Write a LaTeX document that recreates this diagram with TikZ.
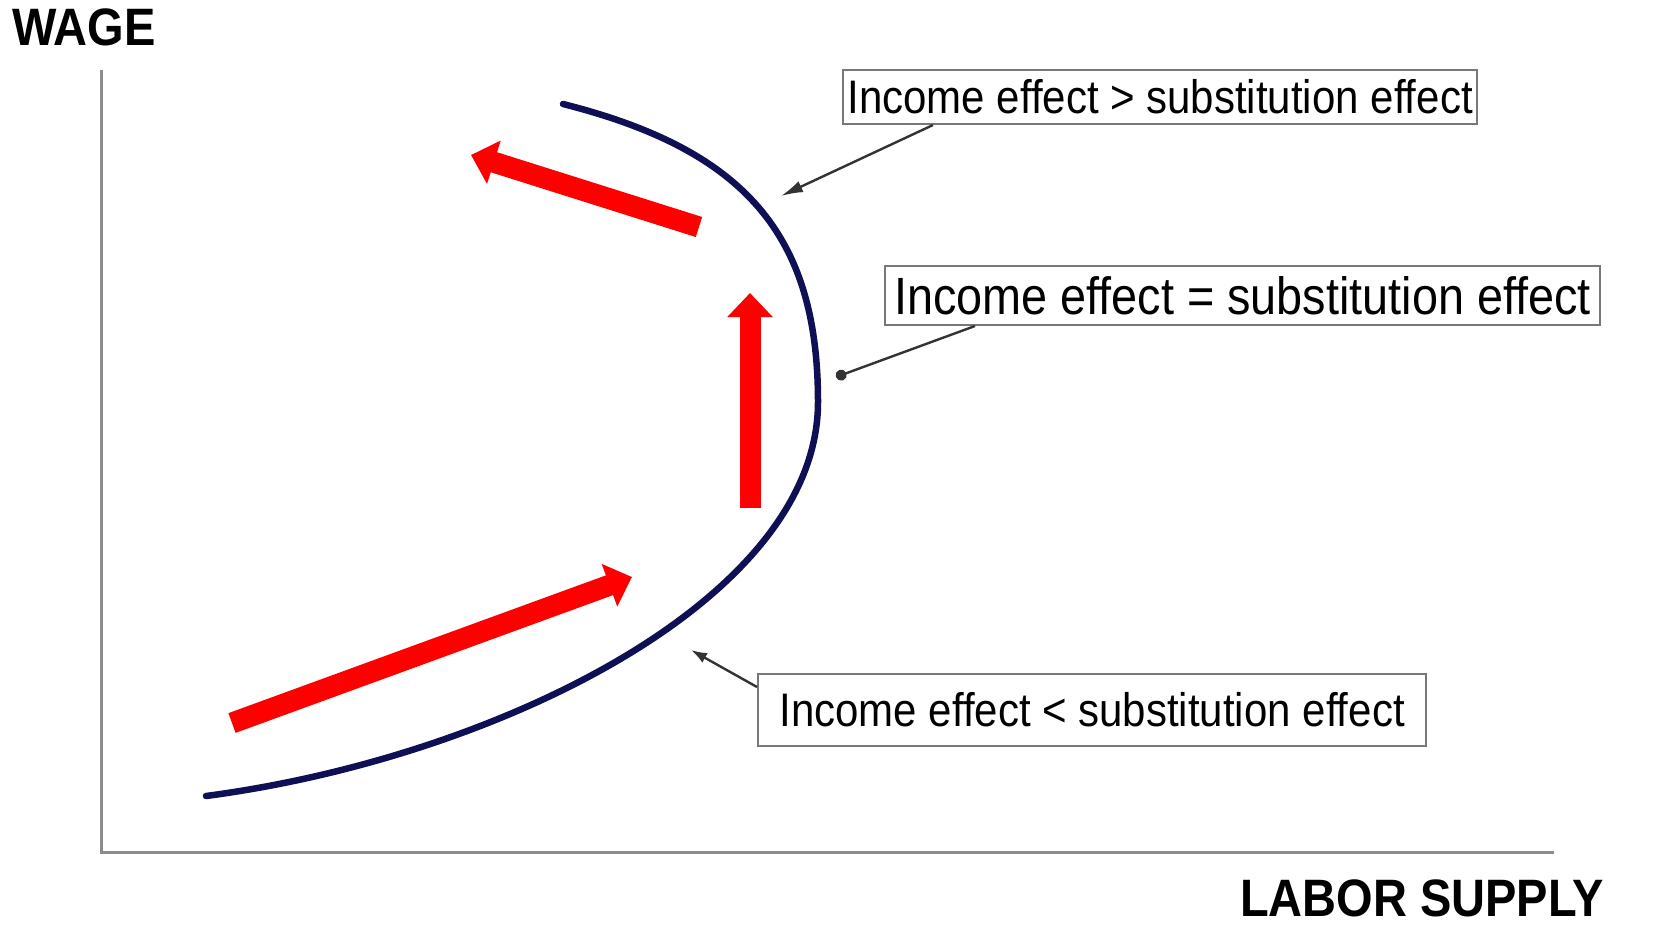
\documentclass[tikz,border=0pt]{standalone}
\usepackage{fontspec}
\setmainfont{Liberation Sans}
\usepackage{graphicx}
\usetikzlibrary{arrows.meta}
\definecolor{curveblue}{RGB}{15,15,85}
\definecolor{effred}{RGB}{255,0,0}
\definecolor{axisgray}{RGB}{140,140,140}
\definecolor{boxgray}{RGB}{120,120,120}
\newcommand{\tallbox}[1]{\scalebox{1}[1.12]{#1}}
\tikzset{
  ebox/.style={draw=boxgray, line width=2pt, fill=white, inner sep=0pt, align=center},
  lead/.style={draw=black!80, line width=2.4pt},
  bigarrow/.style={effred, line width=21pt, -{Triangle[length=24pt,width=44pt]}},
  axisline/.style={axisgray, line width=3pt},
  axlbl/.style={font=\fontsize{47}{56}\selectfont\bfseries, inner sep=0pt}
}

\begin{document}
\begin{tikzpicture}[x=1pt, y=-1pt]
  \useasboundingbox (0,0) rectangle (1660,924);
  % axes
  \coordinate (ytop) at (101,70);
  \coordinate (orig) at (101,852);
  \coordinate (xend) at (1554,852);
  \draw[axisline] (ytop) -- (orig) -- (xend);
  \node[axlbl, anchor=base west] (wage) at (12,45) {\tallbox{WAGE}};
  \node[axlbl, anchor=base west] (labor) at (1240,916) {\tallbox{LABOR SUPPLY}};
  % backward-bending supply curve
  \coordinate (ctop) at (563,104);
  \coordinate (cmid) at (818,402);
  \coordinate (cbot) at (206,796);
  \draw[curveblue, line width=6.5pt, line cap=round]
    (ctop) .. controls (745,150) and (818,235) .. (cmid)
           .. controls (818,600) and (495,758) .. (cbot);
  % effect boxes
  \node[ebox, minimum width=634pt, minimum height=54pt, font=\fontsize{42}{50}\selectfont] (gt) at (1160,97)
    {\tallbox{Income effect > substitution effect}};
  \node[ebox, minimum width=715pt, minimum height=59pt, font=\fontsize{46.8}{56}\selectfont] (eq) at (1242.5,295.5)
    {\tallbox{Income effect = substitution effect}};
  \node[ebox, minimum width=668pt, minimum height=72pt, font=\fontsize{42}{50}\selectfont] (lt) at (1092,710)
    {\tallbox{Income effect < substitution effect}};
  % leaders to the curve
  \coordinate (gtpt) at (781,196);
  \coordinate (eqpt) at (836,377);
  \coordinate (ltpt) at (691,650);
  \draw[lead, -{Latex[length=22pt,width=12pt]}] ([xshift=91pt]gt.south west) -- (gtpt);
  \draw[lead, -{Circle[length=11pt]}] ([xshift=91pt]eq.south west) -- (eqpt);
  \draw[lead, -{Latex[length=16pt,width=11pt]}] ([yshift=-14pt]lt.north west) -- (ltpt);
  % red direction arrows
  \coordinate (a1s) at (699,227); \coordinate (a1e) at (471,155);
  \coordinate (a2s) at (750,508); \coordinate (a2e) at (750,293);
  \coordinate (a3s) at (232,723); \coordinate (a3e) at (632,577);
  \draw[bigarrow] (a1s) -- (a1e);
  \draw[bigarrow] (a2s) -- (a2e);
  \draw[bigarrow] (a3s) -- (a3e);
\end{tikzpicture}
\end{document}
